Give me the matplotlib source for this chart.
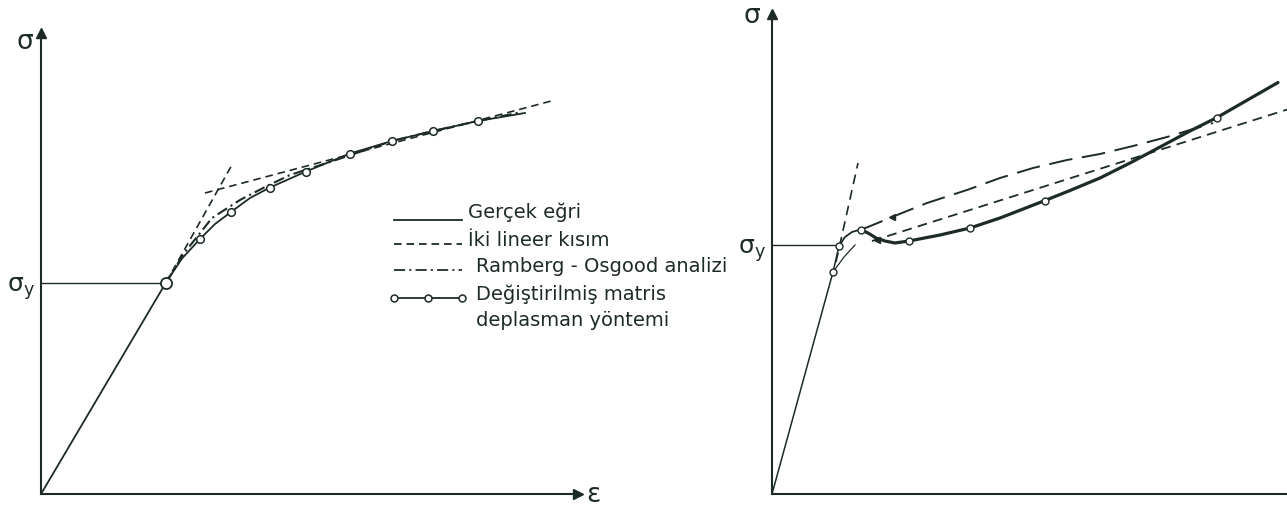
import matplotlib
matplotlib.use("Agg")
import matplotlib.pyplot as plt
from matplotlib.lines import Line2D

plt.rcParams["font.family"] = ["DejaVu Sans"]
plt.rcParams["mathtext.fontset"] = "dejavusans"
plt.rcParams["lines.scale_dashes"] = False

INK = "#1d2b25"
W, H = 1287, 514

# ---------------- left diagram: smooth hardening ----------------
L_true_eps = [0.00, 2.50, 2.82, 3.18, 3.48, 3.80, 4.18, 4.58, 5.30, 6.18, 7.02, 7.84, 8.74, 9.68]
L_true_sig = [0.00, 4.23, 4.71, 5.10, 5.40, 5.64, 5.92, 6.13, 6.45, 6.81, 7.06, 7.26, 7.46, 7.62]

L_dmm_eps = [2.50, 3.18, 3.80, 4.58, 5.30, 6.18, 7.02, 7.84, 8.74]
L_dmm_sig = [4.23, 5.10, 5.64, 6.13, 6.45, 6.81, 7.06, 7.26, 7.46]

L_bil1_eps = [2.50, 3.84]
L_bil1_sig = [4.23, 6.62]
L_bil2_eps = [3.28, 10.28]
L_bil2_sig = [6.02, 7.88]

L_ro_eps = [2.50, 2.88, 3.42, 3.98, 4.52, 4.98, 5.78, 7.02, 7.84, 8.74, 9.62]
L_ro_sig = [4.23, 4.84, 5.52, 5.88, 6.16, 6.38, 6.64, 7.06, 7.26, 7.46, 7.64]

L_sig_y = 4.23
L_eps_y = 2.50

# ---------------- right diagram: yield drop ----------------
R_elastic_eps = [0.00, 1.22, 1.34]
R_elastic_sig = [0.00, 4.44, 4.96]
R_knee_eps = [1.34, 1.46, 1.60, 1.77]
R_knee_sig = [4.96, 5.14, 5.24, 5.29]
R_branch_eps = [1.22, 1.44, 1.66]
R_branch_sig = [4.44, 4.74, 4.98]

R_true_eps = [1.77, 1.92, 2.08, 2.26, 2.46, 2.74, 3.36, 3.96, 4.56, 5.46, 5.96,
              6.56, 7.16, 7.76, 8.36, 8.90, 10.12]
R_true_sig = [5.29, 5.22, 5.12, 5.06, 5.02, 5.06, 5.18, 5.32, 5.52, 5.87, 6.07,
              6.32, 6.62, 6.94, 7.26, 7.53, 8.23]

R_dmm_eps = [1.22, 1.34, 1.77, 2.74, 3.96, 5.46, 8.90]
R_dmm_sig = [4.44, 4.96, 5.29, 5.06, 5.32, 5.87, 7.53]

R_bil1_eps = [1.28, 1.72]
R_bil1_sig = [4.64, 6.62]
R_bil2_eps = [2.00, 10.40]
R_bil2_sig = [5.06, 7.72]

R_ro_eps = [1.77, 1.92, 2.50, 3.10, 3.90, 4.56, 5.22, 5.90, 6.56, 7.22, 7.90, 8.56, 8.82]
R_ro_sig = [5.29, 5.34, 5.58, 5.82, 6.08, 6.32, 6.52, 6.68, 6.80, 6.96, 7.14, 7.34, 7.42]

# small direction arrowheads drawn on the right diagram
R_arrow_eps = [2.10, 2.40]
R_arrow_sig = [5.08, 5.54]

R_sig_y = 4.98
R_eps_y = 1.34

legend_labels = ["Gerçek eğri", "İki lineer kısım", "Ramberg - Osgood analizi",
                 "Değiştirilmiş matris", "deplasman yöntemi"]


def px(x, y):
    return x / W, 1 - y / H


fig = plt.figure(figsize=(W / 100, H / 100), dpi=100)
fig.patch.set_facecolor("white")

axL = fig.add_axes([41 / W, 20 / H, 537 / W, 461 / H])
axR = fig.add_axes([772 / W, 20 / H, 520 / W, 480 / H])
axL.set_xlim(0, 10.74); axL.set_ylim(0, 9.22)
axR.set_xlim(0, 10.40); axR.set_ylim(0, 9.60)

for ax in (axL, axR):
    ax.set_facecolor("none")
    for s in ("top", "right"):
        ax.spines[s].set_visible(False)
    for s in ("left", "bottom"):
        ax.spines[s].set_color(INK)
        ax.spines[s].set_linewidth(1.5)
    ax.set_xticks([]); ax.set_yticks([])
    ax.plot(0, 1, marker="^", color=INK, markersize=7, transform=ax.transAxes, clip_on=False)

axL.plot(1, 0, marker=">", color=INK, markersize=7, transform=axL.transAxes, clip_on=False)

DASH_L = (0, (5.5, 3.5))
DASHDOT_L = (0, (8, 3, 1.5, 3))
DASH_R = (0, (7, 4.5))
LONGDASH_R = (0, (17, 7))

# left panel
axL.plot([0, L_eps_y], [L_sig_y, L_sig_y], color=INK, lw=1.0)
axL.plot(L_bil1_eps, L_bil1_sig, color=INK, lw=1.2, ls=DASH_L)
axL.plot(L_bil2_eps, L_bil2_sig, color=INK, lw=1.2, ls=DASH_L)
axL.plot(L_ro_eps, L_ro_sig, color=INK, lw=1.5, ls=DASHDOT_L)
axL.plot(L_true_eps, L_true_sig, color=INK, lw=1.3)
axL.plot(L_dmm_eps[1:], L_dmm_sig[1:], ls="none", marker="o", ms=5.5, mfc="white", mec=INK, mew=1.1)
axL.plot(L_dmm_eps[:1], L_dmm_sig[:1], ls="none", marker="o", ms=8, mfc="white", mec=INK, mew=1.3)

axL.text(-0.32, 9.05, "σ", fontsize=19, color=INK, ha="center", va="center")
axL.text(-0.40, L_sig_y - 0.12, r"$\mathregular{\sigma_y}$", fontsize=18, color=INK,
         ha="center", va="center")
axL.text(11.05, -0.02, "ε", fontsize=19, color=INK, ha="center", va="center")

# right panel
axR.plot([0, R_eps_y], [R_sig_y, R_sig_y], color=INK, lw=1.0)
axR.plot(R_bil1_eps, R_bil1_sig, color=INK, lw=1.2, ls=DASH_R)
axR.plot(R_bil2_eps, R_bil2_sig, color=INK, lw=1.3, ls=DASH_R)
axR.plot(R_ro_eps, R_ro_sig, color=INK, lw=1.4, ls=LONGDASH_R)
axR.plot(R_elastic_eps, R_elastic_sig, color=INK, lw=1.1)
axR.plot(R_knee_eps, R_knee_sig, color=INK, lw=1.3)
axR.plot(R_branch_eps, R_branch_sig, color=INK, lw=0.9)
axR.plot(R_true_eps, R_true_sig, color=INK, lw=2.3, solid_capstyle="round", solid_joinstyle="round")
axR.plot(R_arrow_eps, R_arrow_sig, ls="none", marker="<", ms=5, color=INK)
axR.plot(R_dmm_eps, R_dmm_sig, ls="none", marker="o", ms=5, mfc="white", mec=INK, mew=1.0)

axR.text(-0.40, 9.55, "σ", fontsize=19, color=INK, ha="center", va="center")
axR.text(-0.40, R_sig_y - 0.12, r"$\mathregular{\sigma_y}$", fontsize=18, color=INK,
         ha="center", va="center")

# legend keys and labels
key_x0, key_x1 = 394, 462
rows_y = [220, 244, 270, 298]
styles = [dict(ls="-"), dict(ls=DASH_L), dict(ls=DASHDOT_L), dict(ls="-")]
for y, st in zip(rows_y, styles):
    (x0, yy), (x1, _) = px(key_x0, y), px(key_x1, y)
    fig.add_artist(Line2D([x0, x1], [yy, yy], color=INK, lw=1.3, **st))
x0, yy = px(key_x0, rows_y[3]); xm, _ = px((key_x0 + key_x1) / 2, 0); x1, _ = px(key_x1, 0)
fig.add_artist(Line2D([x0, xm, x1], [yy] * 3, ls="none", marker="o", ms=5, mfc="white", mec=INK, mew=1.1))

text_x = [468, 468, 476, 476, 476]
text_y = [212, 240, 267, 294, 320]
for lbl, tx, ty in zip(legend_labels, text_x, text_y):
    fx, fy = px(tx, ty)
    fig.text(fx, fy, lbl, fontsize=14, color=INK, ha="left", va="center")

fig.savefig("out.png", dpi=100, facecolor="white")
